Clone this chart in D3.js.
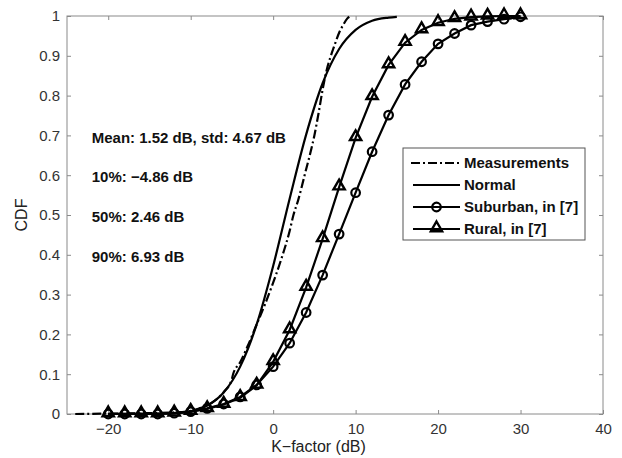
<!DOCTYPE html>
<html>
<head>
<meta charset="utf-8">
<script src="https://cdn.jsdelivr.net/npm/d3@7"></script>
<style>
  body { margin: 0; background: #fff; }
  text { font-family: "Liberation Sans", Arial, sans-serif; }
</style>
</head>
<body>
<script>
// K-factor values of the reference model curves (dB)
const modelK = [-20, -18, -16, -14, -12, -10, -8, -6, -4, -2, 0, 2, 4, 6, 8, 10, 12, 14, 16, 18, 20, 22, 24, 26, 28, 30];
const suburbanCdf = [0, 0, 0, 0, 0.002, 0.006, 0.014, 0.025, 0.043, 0.073, 0.119, 0.178, 0.255, 0.349, 0.452, 0.556, 0.659, 0.751, 0.828, 0.885, 0.93, 0.956, 0.977, 0.986, 0.992, 0.998];
const ruralCdf = [0, 0, 0, 0, 0.002, 0.006, 0.013, 0.024, 0.041, 0.072, 0.131, 0.211, 0.318, 0.44, 0.57, 0.694, 0.797, 0.877, 0.933, 0.965, 0.983, 0.993, 0.997, 0.999, 1, 1];

const measK = [-24, -20, -16, -12, -10, -9, -8, -7, -6, -5, -4.86, -4, -3, -2, -1, 0, 1, 2, 2.46, 3, 4, 4.5, 5, 5.5, 6, 6.5, 7, 7.5, 8, 8.5, 9, 9.3];
const measCdf = [0, 0.001, 0.002, 0.004, 0.008, 0.014, 0.022, 0.035, 0.055, 0.088, 0.1, 0.13, 0.175, 0.225, 0.275, 0.33, 0.39, 0.46, 0.5, 0.535, 0.615, 0.655, 0.7, 0.755, 0.815, 0.865, 0.9, 0.93, 0.958, 0.978, 0.994, 1];

// fitted normal curve
const normK = [-20, -16, -12, -10, -8, -6, -4, -2, 0, 2, 4, 6, 8, 10, 12, 14, 15];
const normCdf = [0.0002, 0.001, 0.002, 0.007, 0.021, 0.054, 0.119, 0.225, 0.372, 0.541, 0.702, 0.831, 0.917, 0.965, 0.988, 0.996, 0.998];

const xTicks = [-20, -10, 0, 10, 20, 30, 40];
const yTicks = [0, 0.1, 0.2, 0.3, 0.4, 0.5, 0.6, 0.7, 0.8, 0.9, 1];
const legendLabels = ["Measurements", "Normal", "Suburban, in [7]", "Rural, in [7]"];
const notes = ["Mean: 1.52 dB, std: 4.67 dB", "10%: \u22124.86 dB", "50%: 2.46 dB", "90%: 6.93 dB"];
const noteY = [0.695, 0.595, 0.495, 0.395];

const W = 622, H = 458;
const margin = {top: 16, right: 19, bottom: 44, left: 67};
const width = W - margin.left - margin.right;
const height = H - margin.top - margin.bottom;

const svg = d3.select("body").append("svg")
    .attr("width", W)
    .attr("height", H);

const g = svg.append("g")
    .attr("transform", "translate(" + margin.left + "," + margin.top + ")");

const xScale = d3.scaleLinear().domain([-25, 40]).range([0, width]);
const yScale = d3.scaleLinear().domain([0, 1]).range([height, 0]);

const axisColor = "#8a8a8a";
const tickText = "#333";

function styleAxis(sel, showText) {
    sel.select(".domain").remove();
    sel.selectAll(".tick line").attr("stroke", axisColor);
    sel.selectAll(".tick text")
        .attr("fill", tickText)
        .style("font-size", "15px")
        .style("display", showText ? null : "none");
}

// bottom / left axes with labels, top / right mirrored ticks
g.append("g").attr("transform", "translate(0," + height + ")")
    .call(d3.axisBottom(xScale).tickValues(xTicks).tickSize(-4).tickPadding(9).tickFormat((d) => d < 0 ? "\u2212" + (-d) : d))
    .call((s) => styleAxis(s, true));
g.append("g")
    .call(d3.axisTop(xScale).tickValues(xTicks).tickSize(-4))
    .call((s) => styleAxis(s, false));
g.append("g")
    .call(d3.axisLeft(yScale).tickValues(yTicks).tickSize(-4).tickPadding(7).tickFormat((d) => d))
    .call((s) => styleAxis(s, true));
g.append("g").attr("transform", "translate(" + width + ",0)")
    .call(d3.axisRight(yScale).tickValues(yTicks).tickSize(-4))
    .call((s) => styleAxis(s, false));

g.append("rect")
    .attr("width", width)
    .attr("height", height)
    .attr("fill", "none")
    .attr("stroke", axisColor)
    .attr("stroke-width", 1);

// axis titles
svg.append("text")
    .attr("x", margin.left + xScale(5.5))
    .attr("y", 452)
    .attr("text-anchor", "middle")
    .style("font-size", "16px")
    .attr("fill", "#222")
    .text("K\u2212factor (dB)");
svg.append("text")
    .attr("transform", "translate(27," + (margin.top + yScale(0.5)) + ") rotate(-90)")
    .attr("text-anchor", "middle")
    .style("font-size", "16px")
    .attr("fill", "#222")
    .text("CDF");

// curves
const plot = g.append("g");
const smooth = d3.line().x((d) => xScale(d[0])).y((d) => yScale(d[1])).curve(d3.curveMonotoneX);
const straight = d3.line().x((d) => xScale(d[0])).y((d) => yScale(d[1]));

plot.append("path")
    .attr("d", smooth(measK.map((k, i) => [k, measCdf[i]])))
    .attr("fill", "none").attr("stroke", "#000").attr("stroke-width", 2.2)
    .attr("stroke-dasharray", "9,3,2,3");

plot.append("path")
    .attr("d", smooth(normK.map((k, i) => [k, normCdf[i]])))
    .attr("fill", "none").attr("stroke", "#000").attr("stroke-width", 2.2);

const subPts = modelK.map((k, i) => [k, suburbanCdf[i]]);
const rurPts = modelK.map((k, i) => [k, ruralCdf[i]]);

plot.append("path").attr("d", straight(subPts))
    .attr("fill", "none").attr("stroke", "#000").attr("stroke-width", 2.2);
plot.append("path").attr("d", straight(rurPts))
    .attr("fill", "none").attr("stroke", "#000").attr("stroke-width", 2.2);

const tri = d3.symbol().type(d3.symbolTriangle).size(55);

plot.selectAll("circle.sub").data(subPts).enter().append("circle")
    .attr("class", "sub")
    .attr("cx", (d) => xScale(d[0]))
    .attr("cy", (d) => yScale(d[1]))
    .attr("r", 4.3)
    .attr("fill", "none").attr("stroke", "#000").attr("stroke-width", 2.2);

plot.selectAll("path.rur").data(rurPts).enter().append("path")
    .attr("class", "rur")
    .attr("d", tri)
    .attr("transform", (d) => "translate(" + xScale(d[0]) + "," + (yScale(d[1]) - 1) + ")")
    .attr("fill", "none").attr("stroke", "#000").attr("stroke-width", 2.4);

// annotations
g.selectAll("text.note").data(notes).enter().append("text")
    .attr("class", "note")
    .attr("x", xScale(-22))
    .attr("y", (d, i) => yScale(noteY[i]))
    .attr("dy", "0.35em")
    .style("font-size", "15px")
    .style("font-weight", "bold")
    .attr("fill", "#111")
    .text((d) => d);

// legend
const lg = svg.append("g").attr("transform", "translate(403,148)");
lg.append("rect")
    .attr("width", 182).attr("height", 92)
    .attr("fill", "#fff").attr("stroke", "#555").attr("stroke-width", 1);

const rowY = (i) => 15 + i * 22;
legendLabels.forEach((label, i) => {
    const row = lg.append("g").attr("transform", "translate(0," + rowY(i) + ")");
    const ln = row.append("line")
        .attr("x1", 10).attr("x2", 57).attr("y1", 0).attr("y2", 0)
        .attr("stroke", "#000").attr("stroke-width", 2.2);
    if (i === 0) ln.attr("stroke-dasharray", "9,3,2,3").attr("x1", 8);
    if (i === 2) row.append("circle").attr("cx", 33.5).attr("cy", 0).attr("r", 4.3)
        .attr("fill", "none").attr("stroke", "#000").attr("stroke-width", 2.2);
    if (i === 3) row.append("path").attr("d", tri).attr("transform", "translate(33.5,-1)")
        .attr("fill", "none").attr("stroke", "#000").attr("stroke-width", 2.4);
    row.append("text")
        .attr("x", 61).attr("y", 0).attr("dy", "0.35em")
        .style("font-size", "15px").style("font-weight", "bold")
        .attr("fill", "#111")
        .text(label);
});
</script>
</body>
</html>
